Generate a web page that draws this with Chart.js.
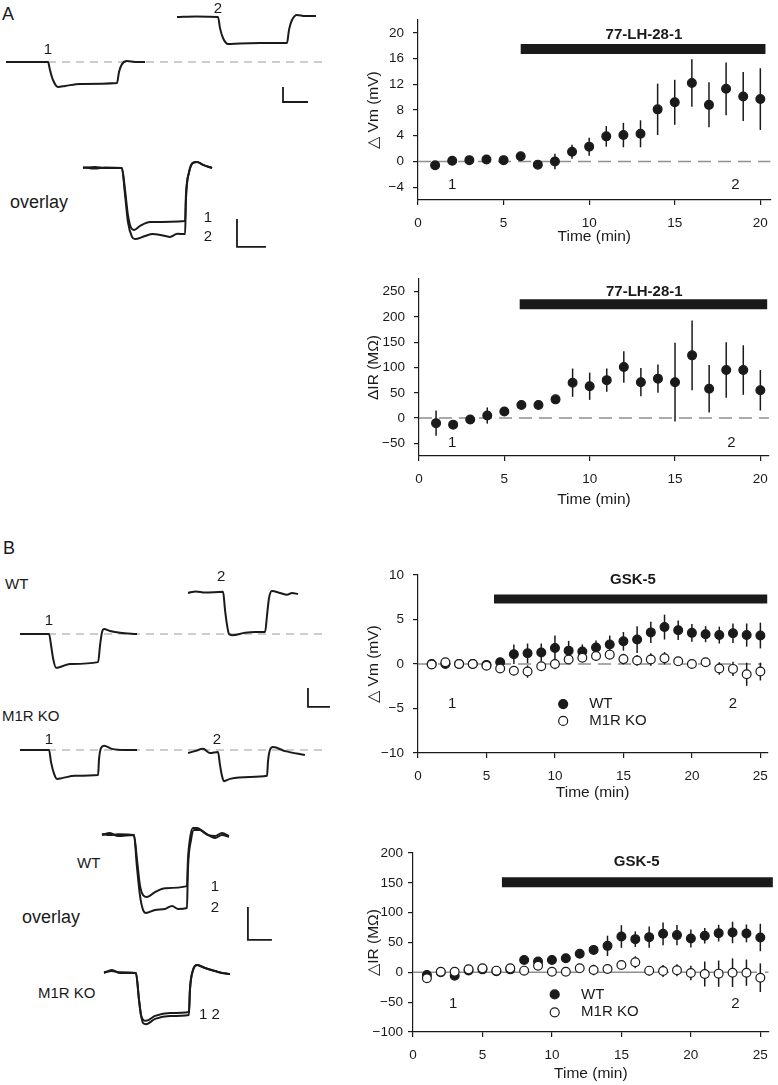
<!DOCTYPE html>
<html>
<head>
<meta charset="utf-8">
<script src="https://cdn.jsdelivr.net/npm/chart.js@4.4.1/dist/chart.umd.min.js"></script>
<style>
  body { margin: 0; background: #fff; }
  #page { position: relative; width: 778px; height: 1085px; overflow: hidden; font-family: "Liberation Sans", Arial, sans-serif; color: #1a1a1a; }
  #page canvas { position: absolute; }
  .txt { position: absolute; white-space: nowrap; line-height: 1; transform: translateY(-50%); }
</style>
</head>
<body>
<div id="page">
  <div class="txt" style="left:2px; top:14px; font-size:18px;">A</div>
  <div class="txt" style="left:10px; top:202px; font-size:18px;">overlay</div>
  <div class="txt" style="left:3px; top:548px; font-size:18px;">B</div>
  <div class="txt" style="left:5px; top:583px; font-size:15px;">WT</div>
  <div class="txt" style="left:2px; top:715px; font-size:15px;">M1R KO</div>
  <div class="txt" style="left:77px; top:862px; font-size:15px;">WT</div>
  <div class="txt" style="left:22px; top:917px; font-size:18px;">overlay</div>
  <div class="txt" style="left:38px; top:992px; font-size:15px;">M1R KO</div>

  <canvas id="traceA"></canvas>
  <canvas id="overlayA"></canvas>
  <canvas id="traceWT"></canvas>
  <canvas id="traceKO"></canvas>
  <canvas id="overlayWT"></canvas>
  <canvas id="overlayKO"></canvas>

  <canvas id="vmA"></canvas>
  <canvas id="irA"></canvas>
  <canvas id="vmB"></canvas>
  <canvas id="irB"></canvas>
</div>

<script>
// panel A time courses (77-LH-28-1)
var minutesA = [1, 2, 3, 4, 5, 6, 7, 8, 9, 10, 11, 12, 13, 14, 15, 16, 17, 18, 19, 20];
var dVmA    = [-0.6, 0.1, 0.2, 0.3, 0.2, 0.8, -0.5, 0.0, 1.5, 2.3, 3.9, 4.1, 4.3, 8.1, 9.2, 12.2, 8.8, 11.3, 10.1, 9.7];
var dVmAErr = [0.3, 0.3, 0.3, 0.3, 0.3, 0.4, 0.4, 1.2, 1.1, 1.4, 1.6, 1.9, 2.1, 4.0, 3.5, 3.7, 3.5, 4.1, 3.8, 4.8];
var dIRA    = [-10, -13, -3, 5, 13, 26, 26, 37, 70, 63, 75, 101, 71, 78, 71, 124, 58, 95, 95, 55];
var dIRAErr = [25, 5, 5, 16, 5, 5, 5, 8, 28, 27, 23, 31, 28, 28, 78, 69, 47, 55, 49, 40];
var vmTicksA = [-4, 0, 4, 8, 12, 16, 20];
var irTicksA = [-50, 0, 50, 100, 150, 200, 250];
var timeTicksA = [0, 5, 10, 15, 20];

// panel B time courses (GSK-5), WT vs M1R KO
var minutesB = [1, 2, 3, 4, 5, 6, 7, 8, 9, 10, 11, 12, 13, 14, 15, 16, 17, 18, 19, 20, 21, 22, 23, 24, 25];
var dVmWT    = [0.0, 0.0, 0.0, 0.0, -0.1, 0.2, 1.1, 1.2, 1.3, 1.8, 1.5, 1.4, 1.85, 2.2, 2.55, 2.75, 3.55, 4.15, 3.8, 3.5, 3.35, 3.25, 3.45, 3.25, 3.2];
var dVmWTErr = [0.2, 0.2, 0.2, 0.2, 0.2, 0.3, 1.1, 1.1, 1.0, 1.4, 1.1, 0.8, 0.8, 1.0, 1.05, 1.5, 1.2, 1.4, 1.1, 1.0, 0.9, 0.95, 1.1, 1.3, 1.45];
var dVmKO    = [-0.05, 0.2, 0.0, 0.0, -0.2, -0.5, -0.75, -0.85, -0.25, 0.0, 0.5, 0.7, 0.9, 1.05, 0.55, 0.4, 0.5, 0.65, 0.3, 0.0, 0.2, -0.5, -0.55, -1.15, -0.85];
var dVmKOErr = [0.2, 0.2, 0.2, 0.2, 0.3, 0.4, 0.5, 0.7, 0.5, 0.6, 0.5, 0.5, 0.5, 0.5, 0.6, 0.6, 0.7, 0.7, 0.5, 0.4, 0.5, 0.7, 0.8, 1.3, 1.0];
var dIRWT    = [-4.5, 0, -5.6, 3, 5, 2, 5, 20.8, 18, 20.8, 23.6, 31, 37.6, 44.4, 60, 55.6, 59, 64.6, 62.4, 56.7, 61.2, 65.7, 66.8, 65.2, 58.4];
var dIRWTErr = [4, 4, 4, 4, 4, 4, 4, 6, 6, 5, 6, 6, 7, 17, 19, 13, 18, 19, 17, 15, 13, 14, 18, 15, 23];
var dIRKO    = [-10, 1, 1, 5, 6.7, 2.8, 6.7, 2.8, 11, 1, 1, 6.7, 4, 5.6, 12.4, 16.9, 2.8, 2.2, 3.4, -1.1, -2.8, -2.2, -0.6, -0.6, -9];
var dIRKOErr = [4, 4, 4, 4, 4, 4, 4, 4, 6, 4, 4, 6, 9, 6, 6, 10, 8, 10, 10, 12, 21, 22, 24, 22, 24];
var vmTicksB = [-10, -5, 0, 5, 10];
var irTicksB = [-100, -50, 0, 50, 100, 150, 200];
var timeTicksB = [0, 5, 10, 15, 20, 25];

// drug application, [start, end] in min
var drugVmA = [6, 20.3];
var drugIRA = [5.9, 20.4];
var drugVmB = [5.55, 25.5];
var drugIRB = [6.4, 25.9];

// example voltage traces, [ms, mV] relative to baseline
var traceA1 = [[0,0],[168,0],[176,-2.7],[188,-6],[208,-8.3],[236,-8],[296,-7.3],[444,-7],[452,-3.3],[464,-0.7],[484,0.3],[516,0],[556,0]];
var traceA2 = [[684,15],[760,15.2],[848,15],[856,11.3],[868,8],[888,6],[936,6.2],[1016,6.3],[1124,6.3],[1132,10.7],[1144,14],[1164,15.7],[1196,15.3],[1240,15.3]];
var overlayA1 = [[0,0],[41,0.4],[76,0],[134,0],[145,-7.9],[155,-16.8],[166,-21.4],[176,-22.1],[197,-20.7],[231,-19.3],[352,-18.9],[355,-9.6],[366,-1.4],[379,1.8],[393,2.1],[414,1.1],[445,0]];
var overlayA2 = [[0,0.3],[41,-0.2],[76,0.2],[134,0],[145,-9.6],[155,-19.3],[169,-24.6],[179,-25.4],[214,-24.3],[240,-23.6],[266,-23.9],[300,-24.6],[325,-23.5],[352,-23.6],[355,-11.4],[366,-1.4],[379,1.8],[393,2.1],[414,1.1],[445,0]];
var traceWT1 = [[0,0],[132,0],[141,-2.9],[150,-6.3],[164,-8.9],[182,-8.7],[227,-7.9],[355,-7.4],[364,-2.9],[373,0.5],[382,1.3],[409,0.8],[455,0.3],[532,0]];
var traceWT2 = [[764,10.8],[800,11.2],[841,10.9],[923,11.1],[932,6.3],[941,2.4],[950,0],[964,-0.3],[1023,0.3],[1068,0.5],[1114,0.5],[1123,5],[1132,9.5],[1145,11.3],[1182,10.8],[1214,10.3],[1236,10.8],[1264,10.5]];
var traceKO1 = [[0,0],[132,0],[141,-3.2],[155,-6.3],[168,-7.6],[191,-7.4],[250,-6.8],[355,-6.6],[359,-2.6],[368,0.5],[382,1.1],[418,0.3],[477,0],[532,0]];
var traceKO2 = [[764,-0.8],[795,-0.3],[832,0.3],[864,-0.8],[900,-0.5],[909,-3.9],[918,-6.8],[927,-8.2],[955,-7.6],[1045,-7.1],[1123,-6.8],[1127,-3.2],[1136,0],[1150,0.8],[1205,-0.3],[1295,-1.3]];
var overlayWT1 = [[0,0],[33,0.6],[67,-0.3],[133,0],[146,-7.6],[158,-15.2],[171,-18.2],[188,-18.8],[221,-17.3],[263,-16.1],[354,-15.5],[358,-7.6],[367,-0.9],[379,2.1],[396,2.1],[429,0.6],[471,-0.9],[500,0],[529,-0.6]];
var overlayWT2 = [[0,0.3],[33,0],[67,0.2],[133,0],[146,-10],[158,-18.2],[171,-22.7],[183,-23.6],[221,-22.7],[263,-22.4],[292,-21.5],[317,-22.4],[354,-22.1],[358,-10.6],[371,-1.5],[383,1.5],[408,1.5],[442,0],[471,-0.3],[500,0.6],[529,-0.3]];
var overlayKO1 = [[0,0],[33,0.9],[67,0],[133,0],[146,-8.2],[154,-12.7],[163,-14.2],[175,-14.5],[213,-13],[275,-12.1],[354,-11.8],[358,-5.2],[371,0.9],[388,2.4],[421,1.5],[463,0.6],[492,0],[525,-0.3]];
var overlayKO2 = [[0,0.2],[33,0.6],[67,0.2],[133,0],[146,-8.2],[154,-12.7],[163,-15.2],[175,-15.5],[213,-13.9],[275,-13],[354,-12.7],[358,-5.2],[371,0.9],[388,2.4],[421,1.5],[463,0.6],[492,0],[525,-0.3]];

var INK = '#1a1a1a';
Chart.defaults.font.family = '"Liberation Sans", Arial, sans-serif';
Chart.defaults.color = INK;

var chartNotes = {};

// vertical SEM bars, drawn just before their own points
var errorBars = {
  id: 'errorBars',
  beforeDatasetDraw: function(chart, args) {
    var ds = chart.data.datasets[args.index];
    if (!ds.err) return;
    var ctx = chart.ctx, xs = chart.scales.x, ys = chart.scales.y;
    ctx.save();
    ctx.strokeStyle = INK;
    ctx.lineWidth = 1.5;
    ds.data.forEach(function(p, i) {
      var px = xs.getPixelForValue(p.x);
      ctx.beginPath();
      ctx.moveTo(px, ys.getPixelForValue(p.y + ds.err[i]));
      ctx.lineTo(px, ys.getPixelForValue(p.y - ds.err[i]));
      ctx.stroke();
    });
    ctx.restore();
  }
};

// text labels and legend dots placed in data units
var notes = {
  id: 'notes',
  afterDatasetsDraw: function(chart) {
    var list = chartNotes[chart.canvas.id] || [];
    var ctx = chart.ctx, xs = chart.scales.x, ys = chart.scales.y;
    ctx.save();
    list.forEach(function(n) {
      var px = xs.getPixelForValue(n.x), py = ys.getPixelForValue(n.y);
      if (n.dot) {
        ctx.beginPath();
        ctx.arc(px, py, 4.5, 0, Math.PI * 2);
        ctx.fillStyle = n.dot == 'filled' ? INK : '#fff';
        ctx.fill();
        ctx.lineWidth = 1.2;
        ctx.strokeStyle = INK;
        ctx.stroke();
        return;
      }
      ctx.fillStyle = INK;
      ctx.font = (n.bold ? 'bold ' : '') + (n.size || 15) + 'px "Liberation Sans", Arial, sans-serif';
      ctx.textAlign = n.align || 'center';
      ctx.textBaseline = 'middle';
      ctx.fillText(n.text, px, py);
    });
    ctx.restore();
  }
};

Chart.register(errorBars, notes);

function toXY(pairs) {
  return pairs.map(function(p) { return { x: p[0], y: p[1] }; });
}
function series(xs, ys) {
  return xs.map(function(x, i) { return { x: x, y: ys[i] }; });
}
function place(canvas, box) {
  canvas.width = box.width;
  canvas.height = box.height;
  canvas.style.left = box.left + 'px';
  canvas.style.top = box.top + 'px';
  canvas.style.width = box.width + 'px';
  canvas.style.height = box.height + 'px';
}

// ---- voltage traces (left column) ----

function traceChart(id, spec, traces, labels) {
  var canvas = document.getElementById(id);
  place(canvas, spec.box);
  var xMin = -spec.originX / spec.kx, xMax = (spec.box.width - spec.originX) / spec.kx;
  var yMax = spec.baseY / spec.ky, yMin = -(spec.box.height - spec.baseY) / spec.ky;
  var sets = [];
  if (spec.baseline) {
    sets.push({ data: toXY([[0, 0], [spec.baseline, 0]]), showLine: true, borderColor: '#9a9a9a',
      borderWidth: 1.2, borderDash: [8, 6], pointRadius: 0, order: 3 });
  }
  traces.forEach(function(t) {
    sets.push({ data: toXY(t), showLine: true, borderColor: INK, borderWidth: 2,
      pointRadius: 0, cubicInterpolationMode: 'monotone', order: 1 });
  });
  if (spec.bar) {
    var b = spec.bar;
    sets.push({ data: toXY([[b.at[0], b.at[1] + b.mV], b.at, [b.at[0] + b.ms, b.at[1]]]), showLine: true,
      borderColor: INK, borderWidth: 1.8, pointRadius: 0, order: 2 });
  }
  chartNotes[id] = labels;
  return new Chart(canvas, {
    type: 'scatter',
    data: { datasets: sets },
    options: {
      responsive: false, animation: false, devicePixelRatio: 1, events: [],
      layout: { padding: 0 },
      plugins: { legend: { display: false }, tooltip: { enabled: false } },
      scales: {
        x: { type: 'linear', display: false, min: xMin, max: xMax },
        y: { type: 'linear', display: false, min: yMin, max: yMax }
      }
    }
  });
}

traceChart('traceA', { box: { left: 0, top: 0, width: 330, height: 110 }, originX: 6, baseY: 62, kx: 0.25, ky: 3,
  baseline: 1276, bar: { at: [1108, -13.33], ms: 100, mV: 5 } },
  [traceA1, traceA2],
  [{ x: 168, y: 4, text: '1' }, { x: 848, y: 17.7, text: '2' }]);

traceChart('overlayA', { box: { left: 0, top: 140, width: 330, height: 120 }, originX: 83, baseY: 28, kx: 0.29, ky: 2.8,
  bar: { at: [531, -28.2], ms: 100, mV: 10 } },
  [overlayA1, overlayA2],
  [{ x: 431, y: -17.9, text: '1' }, { x: 431, y: -24.6, text: '2' }]);

traceChart('traceWT', { box: { left: 0, top: 560, width: 335, height: 152 }, originX: 20, baseY: 74, kx: 0.22, ky: 3.8,
  baseline: 1386, bar: { at: [1309, -19.2], ms: 100, mV: 5 } },
  [traceWT1, traceWT2],
  [{ x: 132, y: 3.4, text: '1' }, { x: 914, y: 15, text: '2' }]);

traceChart('traceKO', { box: { left: 0, top: 725, width: 335, height: 75 }, originX: 20, baseY: 25, kx: 0.22, ky: 3.8,
  baseline: 1386 },
  [traceKO1, traceKO2],
  [{ x: 132, y: 2.6, text: '1' }, { x: 895, y: 2.6, text: '2' }]);

traceChart('overlayWT', { box: { left: 0, top: 815, width: 340, height: 135 }, originX: 102, baseY: 20, kx: 0.24, ky: 3.3,
  bar: { at: [608, -31.8], ms: 100, mV: 10 } },
  [overlayWT1, overlayWT2],
  [{ x: 471, y: -15.8, text: '1' }, { x: 471, y: -22.1, text: '2' }]);

traceChart('overlayKO', { box: { left: 0, top: 955, width: 340, height: 85 }, originX: 104, baseY: 18, kx: 0.24, ky: 3.3 },
  [overlayKO1, overlayKO2],
  [{ x: 396, y: -12.7, text: '1 2', align: 'left' }]);

// ---- time course charts (right column) ----

function minus(v) { return v < 0 ? '\u2212' + Math.abs(v) : '' + v; }

function axis(min, max, ticks, title, size, isY, tickPad, titlePad) {
  return {
    type: 'linear', min: min, max: max,
    afterBuildTicks: function(s) { s.ticks = ticks.map(function(v) { return { value: v }; }); },
    afterFit: function(s) { if (isY) s.width = size; else s.height = size; },
    grid: { drawOnChartArea: false, drawTicks: true, tickLength: 5, color: INK, lineWidth: 1.2 },
    border: { display: true, color: INK, width: 1.2 },
    ticks: { color: INK, font: { size: 13.5 }, padding: tickPad, maxRotation: 0, autoSkip: false, callback: minus },
    title: { display: true, text: title, color: INK, font: { size: 15.5 }, padding: titlePad }
  };
}

function dots(xs, ys, err, filled, order) {
  return { data: series(xs, ys), err: err, pointRadius: 4.4, pointHoverRadius: 4.4,
    pointBackgroundColor: filled ? INK : '#fff', pointBorderColor: INK, pointBorderWidth: 1.2,
    showLine: false, order: order };
}

function timeChart(id, box, area, c) {
  var canvas = document.getElementById(id);
  place(canvas, box);
  var sets = [
    { data: [{ x: 0, y: 0 }, { x: c.zeroEnd, y: 0 }], showLine: true, borderColor: '#8f8f8f', borderWidth: 1.5,
      borderDash: c.zeroDash, pointRadius: 0, order: 9 },
    { data: [{ x: c.drug[0], y: c.drugY }, { x: c.drug[1], y: c.drugY }], showLine: true, borderColor: INK,
      borderWidth: c.drugWidth, borderCapStyle: 'butt', pointRadius: 0, clip: false, order: 8 }
  ].concat(c.series);
  chartNotes[id] = c.notes;
  return new Chart(canvas, {
    type: 'scatter',
    data: { datasets: sets },
    options: {
      responsive: false, animation: false, devicePixelRatio: 1, events: [],
      layout: { padding: { top: area.top - box.top, right: box.left + box.width - area.right, bottom: 0, left: 0 } },
      plugins: { legend: { display: false }, tooltip: { enabled: false } },
      scales: {
        x: axis(0, c.xMax, c.xTicks, 'Time (min)', box.top + box.height - area.bottom, false, 10, { top: 0, bottom: 1 }),
        y: axis(c.yMin, c.yMax, c.yTicks, c.yTitle, area.left - box.left, true, c.yPad, { top: 9, bottom: 0 })
      }
    }
  });
}

timeChart('vmA', { left: 355, top: 0, width: 423, height: 247 }, { left: 418, right: 773, top: 20, bottom: 200 }, {
  xMax: 20.6, xTicks: timeTicksA, yMin: -6, yMax: 22, yTicks: vmTicksA, yTitle: '\u25B3 Vm (mV)', yPad: 9,
  zeroEnd: 20.6, zeroDash: [13, 7], drug: drugVmA, drugY: 17.5, drugWidth: 10,
  series: [dots(minutesA, dVmA, dVmAErr, true, 1)],
  notes: [
    { x: 13.2, y: 19.7, text: '77-LH-28-1', bold: true },
    { x: 2.0, y: -3.6, text: '1' }, { x: 18.55, y: -3.6, text: '2' }
  ]
});

timeChart('irA', { left: 355, top: 255, width: 423, height: 255 }, { left: 419, right: 775, top: 279, bottom: 456 }, {
  xMax: 20.5, xTicks: timeTicksA, yMin: -75, yMax: 275, yTicks: irTicksA, yTitle: '\u0394IR (M\u03A9)', yPad: 9,
  zeroEnd: 20.5, zeroDash: [13, 7], drug: drugIRA, drugY: 225, drugWidth: 10,
  series: [dots(minutesA, dIRA, dIRAErr, true, 1)],
  notes: [
    { x: 13.2, y: 250, text: '77-LH-28-1', bold: true },
    { x: 1.95, y: -50, text: '1' }, { x: 18.3, y: -50, text: '2' }
  ]
});

timeChart('vmB', { left: 355, top: 555, width: 423, height: 248 }, { left: 418, right: 772, top: 575, bottom: 753 }, {
  xMax: 25.5, xTicks: timeTicksB, yMin: -10, yMax: 10, yTicks: vmTicksB, yTitle: '\u25B3 Vm (mV)', yPad: 9,
  zeroEnd: 25.1, zeroDash: [13, 7], drug: drugVmB, drugY: 7.3, drugWidth: 9,
  series: [dots(minutesB, dVmKO, dVmKOErr, false, 1), dots(minutesB, dVmWT, dVmWTErr, true, 2)],
  notes: [
    { x: 15.7, y: 9.4, text: 'GSK-5', bold: true },
    { x: 2.5, y: -4.5, text: '1' }, { x: 23.0, y: -4.5, text: '2' },
    { x: 10.6, y: -4.5, dot: 'filled' }, { x: 10.6, y: -6.4, dot: 'open' },
    { x: 12.5, y: -4.5, text: 'WT', align: 'left' }, { x: 12.5, y: -6.4, text: 'M1R KO', align: 'left' }
  ]
});

timeChart('irB', { left: 355, top: 835, width: 423, height: 249 }, { left: 413, right: 771, top: 853, bottom: 1032 }, {
  xMax: 25.6, xTicks: timeTicksB, yMin: -100, yMax: 200, yTicks: irTicksB, yTitle: '\u25B3IR (M\u03A9)', yPad: 5,
  zeroEnd: 25.6, zeroDash: [80, 8], drug: drugIRB, drugY: 151, drugWidth: 10,
  series: [dots(minutesB, dIRKO, dIRKOErr, false, 1), dots(minutesB, dIRWT, dIRWTErr, true, 2)],
  notes: [
    { x: 16.1, y: 185, text: 'GSK-5', bold: true },
    { x: 2.9, y: -52, text: '1' }, { x: 23.2, y: -52, text: '2' },
    { x: 10.2, y: -37, dot: 'filled' }, { x: 10.2, y: -67, dot: 'open' },
    { x: 12.1, y: -37, text: 'WT', align: 'left' }, { x: 12.1, y: -67, text: 'M1R KO', align: 'left' }
  ]
});
</script>
</body>
</html>
